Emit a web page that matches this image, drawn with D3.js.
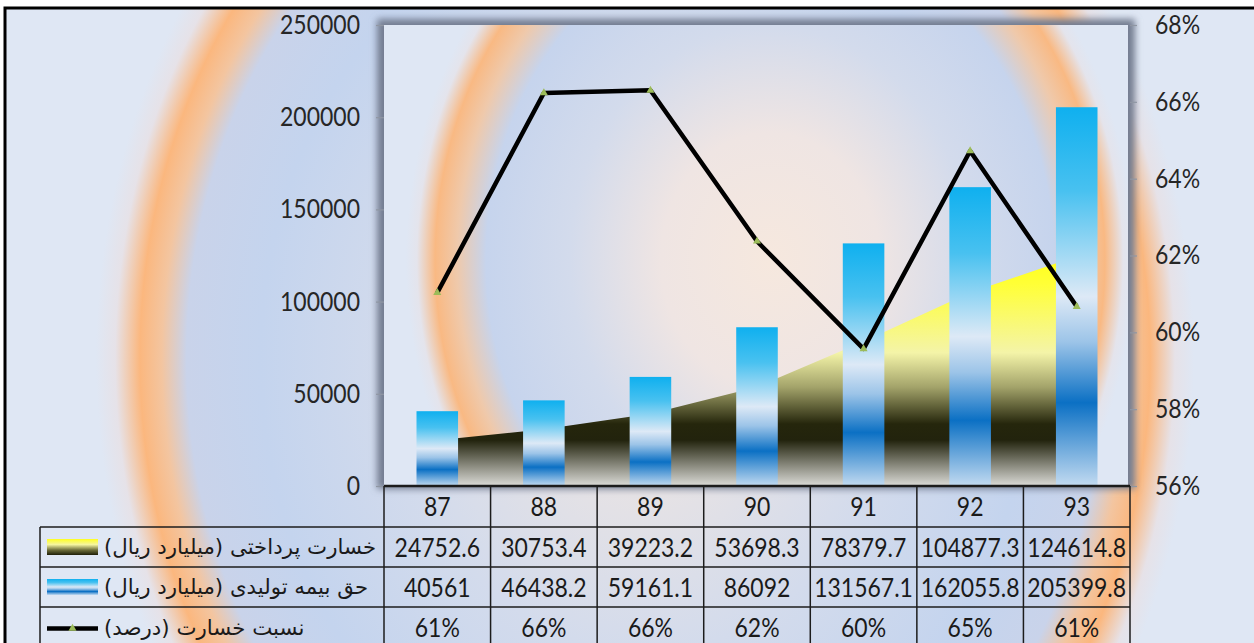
<!DOCTYPE html>
<html>
<head>
<meta charset="utf-8">
<script src="https://cdn.jsdelivr.net/npm/d3@7"></script>
<style>
  body { margin: 0; background: #fff; }
  svg { display: block; }
</style>
</head>
<body>
<svg id="chart" width="1254" height="643"></svg>
<script>
// chart values
const years = ['87', '88', '89', '90', '91', '92', '93']
const lossPaid = [24752.6, 30753.4, 39223.2, 53698.3, 78379.7, 104877.3, 124614.8]
const premium = [40561, 46438.2, 59161.1, 86092, 131567.1, 162055.8, 205399.8]
const lossRatio = [61.03, 66.23, 66.30, 62.37, 59.57, 64.72, 60.67]
const ratioLabels = ['61%', '66%', '66%', '62%', '60%', '65%', '61%']
const leftTicks = [0, 50000, 100000, 150000, 200000, 250000]
const rightTicks = [56, 58, 60, 62, 64, 66, 68]
const seriesNames = ['خسارت پرداختی (میلیارد ریال)', 'حق بیمه تولیدی (میلیارد ریال)', 'نسبت خسارت (درصد)']

const svg = d3.select('#chart')
const defs = svg.append('defs')
const font = 'Lato, Calibri, sans-serif'

// plot area box
const pL = 384, pR = 1130, pT = 25, pB = 486

const x = d3.scaleBand().domain(years).range([pL, pR])
const y = d3.scaleLinear().domain([0, 250000]).range([pB, pT])
const yR = d3.scaleLinear().domain([56, 68]).range([pB, pT])
const barW = x.bandwidth() * 0.39
const cx = d => x(d) + x.bandwidth() / 2

// gradients
function radial(id, tx, ty, rx, ry, stops) {
    let g = defs.append('radialGradient').attr('id', id)
        .attr('gradientUnits', 'userSpaceOnUse')
        .attr('cx', 0).attr('cy', 0).attr('r', 1)
        .attr('gradientTransform', `translate(${tx},${ty}) scale(${rx},${ry})`)
    stops.forEach(s => g.append('stop').attr('offset', s[0]).attr('stop-color', s[1]))
}
function linear(id, stops, units, y1, y2) {
    let g = defs.append('linearGradient').attr('id', id)
        .attr('x1', 0).attr('x2', 0).attr('y1', y1).attr('y2', y2)
    if (units) g.attr('gradientUnits', units)
    stops.forEach(s => g.append('stop').attr('offset', s[0]).attr('stop-color', s[1]))
}

radial('bgGrad', 645, 358, 549, 654, [
    [0, '#f5e8df'], [0.45, '#d3dbec'], [0.7, '#c4d4ee'], [0.835, '#c9d3ea'],
    [0.88, '#f3c5a0'], [0.92, '#fbb77e'], [0.965, '#e6e2e8'], [1, '#dfe7f4']])
radial('plotGrad', 770, 260, 364, 424, [
    [0, '#f6e8de'], [0.3, '#efe5e3'], [0.55, '#d3dbec'], [0.78, '#c6d4ed'],
    [0.86, '#efc9ab'], [0.92, '#f9b983'], [0.97, '#e4e4ec'], [1, '#dfe7f4']])

linear('barGrad', [
    [0, '#0fb0ef'], [0.22, '#48c1f0'], [0.5, '#dde9f6'], [0.62, '#9cc4e8'],
    [0.78, '#0b70c4'], [1, '#c3dbf1']], null, 0, 1)
linear('areaGrad', [
    [0, '#ffff1a'], [0.12, '#ffff36'], [0.42, '#f4f4a8'], [0.57, '#a3a36a'],
    [0.73, '#25260c'], [0.8, '#22230d'], [1, '#dcdcd8']],
    'userSpaceOnUse', y(d3.max(lossPaid)), pB)
linear('keyArea', [
    [0, '#ffff20'], [0.35, '#f5f5a0'], [0.7, '#6a6a38'], [1, '#1e1f08']], null, 0, 1)

defs.append('filter').attr('id', 'shadow')
    .attr('x', -0.05).attr('y', -0.05).attr('width', 1.1).attr('height', 1.1)
    .append('feGaussianBlur').attr('stdDeviation', 3.5)

// outer chart frame
svg.append('rect')
    .attr('x', 5).attr('y', 8).attr('width', 1262).attr('height', 700)
    .attr('fill', 'url(#bgGrad)')
    .attr('stroke', '#000').attr('stroke-width', 3)

// plot area with soft shadow
svg.append('rect')
    .attr('x', pL - 7).attr('y', pT - 6).attr('width', pR - pL + 12).attr('height', pB - pT + 9)
    .attr('fill', '#737d91').attr('filter', 'url(#shadow)')
svg.append('rect')
    .attr('x', pL).attr('y', pT).attr('width', pR - pL - 2).attr('height', pB - pT)
    .attr('fill', 'url(#plotGrad)')

// loss paid area
svg.append('path')
    .datum(lossPaid)
    .attr('d', d3.area()
        .x((d, i) => cx(years[i]))
        .y0(y(0))
        .y1(d => y(d)))
    .attr('fill', 'url(#areaGrad)')

// premium bars
svg.append('g').selectAll('rect')
    .data(premium)
    .join('rect')
    .attr('x', (d, i) => cx(years[i]) - barW / 2)
    .attr('y', d => y(d))
    .attr('width', barW)
    .attr('height', d => y(0) - y(d))
    .attr('fill', 'url(#barGrad)')

// loss ratio line
svg.append('path')
    .datum(lossRatio)
    .attr('d', d3.line()
        .x((d, i) => cx(years[i]))
        .y(d => yR(d)))
    .attr('fill', 'none')
    .attr('stroke', '#000')
    .attr('stroke-width', 4.5)
    .attr('stroke-linejoin', 'round')

const tri = d3.symbol(d3.symbolTriangle).size(28)
svg.append('g').selectAll('path')
    .data(lossRatio)
    .join('path')
    .attr('d', tri)
    .attr('transform', (d, i) => `translate(${cx(years[i])},${yR(d)})`)
    .attr('fill', '#9bbb59')

// axes
const axL = svg.append('g')
    .attr('transform', `translate(${pL},0)`)
    .call(d3.axisLeft(y).tickValues(leftTicks).tickSize(8).tickPadding(16).tickFormat(d3.format('d')))
const axR = svg.append('g')
    .attr('transform', `translate(${pR},0)`)
    .call(d3.axisRight(yR).tickValues(rightTicks).tickSize(7).tickPadding(18).tickFormat(d => d + '%'))

;[axL, axR].forEach(ax => {
    ax.select('.domain').remove()
    ax.selectAll('line').attr('stroke', '#8f96a3').attr('stroke-width', 1.2)
    ax.selectAll('text')
        .attr('font-family', font).attr('font-size', 23).attr('fill', '#262626')
        .attr('transform', 'scale(1,1.15)')
})

// data table
const rowTops = [486, 527, 567, 607, 648]
const tbl = svg.append('g')
const lineCol = '#1c1c1c'

function cellText(str, xc, yc, anchor) {
    tbl.append('text')
        .attr('transform', `translate(${xc},${yc}) scale(1,1.15)`)
        .attr('dy', '0.36em')
        .attr('text-anchor', anchor || 'middle')
        .attr('font-family', font).attr('font-size', 23)
        .attr('fill', '#1a1a1a')
        .text(str)
}

const rows = [years, lossPaid.map(String), premium.map(String), ratioLabels]
rows.forEach((vals, r) => {
    let yc = (rowTops[r] + rowTops[r + 1]) / 2
    vals.forEach((v, i) => cellText(v, cx(years[i]), yc))
})

// grid lines of the table
tbl.append('line')
    .attr('x1', pL).attr('x2', pR).attr('y1', rowTops[0]).attr('y2', rowTops[0])
    .attr('stroke', lineCol).attr('stroke-width', 2.5)
rowTops.slice(1, 4).forEach(t => {
    tbl.append('line')
        .attr('x1', 40).attr('x2', pR).attr('y1', t).attr('y2', t)
        .attr('stroke', lineCol).attr('stroke-width', 1.5)
})
years.forEach(d => {
    tbl.append('line')
        .attr('x1', x(d)).attr('x2', x(d)).attr('y1', rowTops[0]).attr('y2', 660)
        .attr('stroke', lineCol).attr('stroke-width', 1.5)
})
tbl.append('line')
    .attr('x1', pR).attr('x2', pR).attr('y1', rowTops[0]).attr('y2', 660)
    .attr('stroke', lineCol).attr('stroke-width', 1.5)
tbl.append('line')
    .attr('x1', 40).attr('x2', 40).attr('y1', rowTops[1]).attr('y2', 660)
    .attr('stroke', lineCol).attr('stroke-width', 1.5)

// legend keys and series names (laid out left to right, as the original did)
const keyX = 47, keyW = 51
seriesNames.forEach((name, i) => {
    let yc = (rowTops[i + 1] + rowTops[i + 2]) / 2
    if (i < 2) {
        tbl.append('rect')
            .attr('x', keyX).attr('y', yc - 8).attr('width', keyW).attr('height', 16)
            .attr('fill', i == 0 ? 'url(#keyArea)' : 'url(#barGrad)')
    } else {
        tbl.append('line')
            .attr('x1', keyX).attr('x2', keyX + keyW).attr('y1', yc + 1).attr('y2', yc + 1)
            .attr('stroke', '#000').attr('stroke-width', 4.5)
        tbl.append('path').attr('d', tri)
            .attr('transform', `translate(${keyX + keyW / 2},${yc + 1})`)
            .attr('fill', '#9bbb59')
    }
    tbl.append('text')
        .attr('x', 104).attr('y', yc)
        .attr('dy', '0.35em')
        .attr('direction', 'ltr')
        .attr('text-anchor', 'start')
        .attr('font-family', "'DejaVu Sans', sans-serif").attr('font-size', 21.3)
        .attr('fill', '#1a1a1a')
        .text('\u200E' + name)
})
</script>
</body>
</html>
